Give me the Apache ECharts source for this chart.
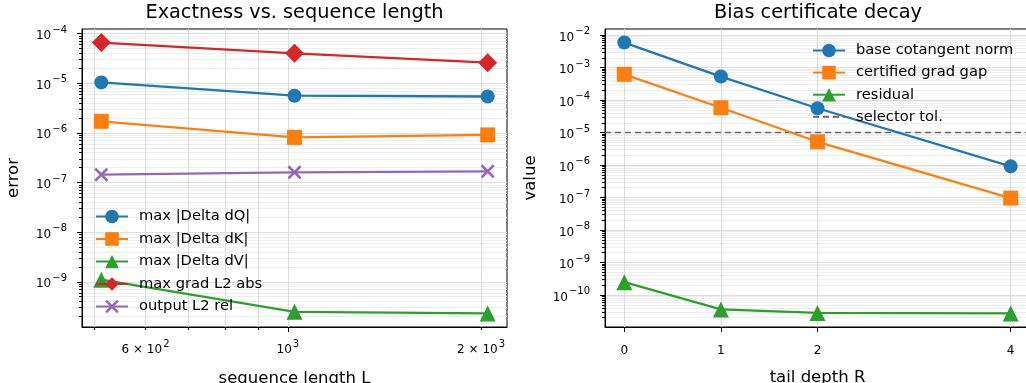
<!DOCTYPE html>
<html><head><meta charset="utf-8">
<script src="https://cdn.jsdelivr.net/npm/echarts@6/dist/echarts.min.js"></script>
<style>html,body{margin:0;padding:0;background:#fff}#c{width:1026px;height:383px}</style>
</head><body><div id="c"></div>
<script>
// ---------- data (left panel) ----------
const seqLen = [512, 1024, 2048];
const maxDeltaDQ = [1.04e-5, 5.6e-6, 5.4e-6];
const maxDeltaDK = [1.71e-6, 8.1e-7, 9.1e-7];
const maxDeltaDV = [1.1e-9, 2.48e-10, 2.3e-10];
const maxGradL2Abs = [6.6e-5, 4.0e-5, 2.6e-5];
const outputL2Rel = [1.44e-7, 1.6e-7, 1.68e-7];
const leftXLabelValues = [600, 1000, 2000];
const leftXMajorTicks = [1000];
const leftXMinorTicks = [500, 600, 700, 800, 900, 2000];

// ---------- data (right panel) ----------
const tailDepth = [0, 1, 2, 4];
const baseCotangentNorm = [5.9e-3, 5.3e-4, 5.6e-5, 9.1e-7];
const certifiedGradGap = [6.2e-4, 5.8e-5, 5.2e-6, 9.6e-8];
const residual = [2.47e-10, 3.6e-11, 2.8e-11, 2.7e-11];
const selectorTol = 1e-5;
const rightXTicks = [0, 1, 2, 4];

const FONT = 'DejaVu Sans';
const C = {blue:'#1f77b4', orange:'#ff7f0e', green:'#2ca02c', red:'#d62728', purple:'#9467bd'};
const XSYM = 'path://M0,1.3L1.3,0L5,3.7L8.7,0L10,1.3L6.3,5L10,8.7L8.7,10L5,6.3L1.3,10L0,8.7L3.7,5Z';

function logRange(arrs){
  let lo=Infinity, hi=-Infinity;
  arrs.forEach(a=>a.forEach(v=>{const l=Math.log10(v); lo=Math.min(lo,l); hi=Math.max(hi,l);}));
  const m=(hi-lo)*0.05; return [lo-m, hi+m];
}
function linRange(a){const lo=Math.min(...a), hi=Math.max(...a), m=(hi-lo)*0.05; return [lo-m, hi+m];}
function decades(r){const o=[]; for(let e=Math.ceil(r[0]); e<=Math.floor(r[1]); e++) o.push(Number('1e'+e)); return o;}
function minors(r){const o=[]; for(let e=Math.floor(r[0]); e<=Math.ceil(r[1]); e++) for(let k=2;k<=9;k++){const v=Number(k+'e'+e); const l=Math.log10(v); if(l>=r[0]&&l<=r[1]) o.push(v);} return o;}
function sup(n){return n<0?'\u2212'+(-n):String(n);}
function powLabel(v){
  const l=Math.log10(v), e=Math.floor(l+1e-9);
  const m=Math.round(v/Number('1e'+e));
  return (m===1?'{b|10}':'{b|'+m+' \u00d7 10}')+'{s|'+sup(e)+'}';
}
const rich = {
  b:{fontFamily:FONT, fontSize:12, color:'#000', padding:[5,0,0,0], verticalAlign:'bottom'},
  s:{fontFamily:FONT, fontSize:10, color:'#000', verticalAlign:'top', padding:[0,0,0,1]}
};

const lr = logRange([maxDeltaDQ,maxDeltaDK,maxDeltaDV,maxGradL2Abs,outputL2Rel]);
const rr = logRange([baseCotangentNorm,certifiedGradGap,residual]);
const lx = logRange([seqLen]);
const rx = linRange(tailDepth);

const majorGrid = {show:true, lineStyle:{color:'#dddddd', width:1}};
const minorGrid = {show:true, lineStyle:{color:'#eeeeee', width:1}};
const blackLine = {color:'#000', width:1};
const nameStyle = {fontFamily:FONT, fontSize:16.5, color:'#000'};

function yAxisPair(gridIndex, r, name, gap){
  return [
    {type:'log', gridIndex, min:Math.pow(10,r[0]), max:Math.pow(10,r[1]), position:'left',
     name, nameLocation:'middle', nameGap:gap, nameRotate:90, nameTextStyle:nameStyle,
     axisLine:{show:true, onZero:false, lineStyle:blackLine},
     axisTick:{show:true, length:5, customValues:decades(r), lineStyle:blackLine},
     axisLabel:{show:true, margin:15, customValues:decades(r), formatter:(v)=>powLabel(v), rich},
     splitLine:majorGrid, minorTick:{show:false}, z:3},
    {type:'log', gridIndex, min:Math.pow(10,r[0]), max:Math.pow(10,r[1]), position:'left',
     axisLine:{show:false, onZero:false},
     axisTick:{show:true, length:3, customValues:minors(r), lineStyle:blackLine},
     axisLabel:{show:false}, splitLine:minorGrid, minorTick:{show:false}, z:2}
  ];
}
const yAxes = [...yAxisPair(0, lr, 'error', 60), ...yAxisPair(1, rr, 'value', 66)];

const xAxes = [
  {type:'log', gridIndex:0, min:Math.pow(10,lx[0]), max:Math.pow(10,lx[1]), position:'bottom',
   name:'sequence length L', nameLocation:'middle', nameGap:43, nameTextStyle:nameStyle,
   axisLine:{show:true, onZero:false, lineStyle:blackLine},
   axisTick:{show:true, length:5, customValues:leftXMajorTicks, lineStyle:blackLine},
   axisLabel:{show:true, margin:12, customValues:leftXLabelValues, formatter:(v)=>powLabel(v), rich},
   splitLine:majorGrid, z:3},
  {type:'log', gridIndex:0, min:Math.pow(10,lx[0]), max:Math.pow(10,lx[1]), position:'bottom',
   axisLine:{show:false, onZero:false},
   axisTick:{show:true, length:3, customValues:leftXMinorTicks, lineStyle:blackLine},
   axisLabel:{show:false}, splitLine:majorGrid, z:2},
  {type:'value', gridIndex:1, min:rx[0], max:rx[1], position:'bottom',
   name:'tail depth R', nameLocation:'middle', nameGap:42, nameTextStyle:nameStyle,
   axisLine:{show:true, onZero:false, lineStyle:blackLine},
   axisTick:{show:true, length:5, customValues:rightXTicks, lineStyle:blackLine},
   axisLabel:{show:true, margin:18, customValues:rightXTicks, fontFamily:FONT, fontSize:12, color:'#000'},
   splitLine:majorGrid, z:3}
];

function line(name, xs, ys, color, symbol, size, xi, yi, extra){
  return Object.assign({
    name, type:'line', xAxisIndex:xi, yAxisIndex:yi,
    data: xs.map((x,i)=>[x, ys[i]]),
    symbol, symbolSize:size, showSymbol:true, animation:false,
    lineStyle:{color, width:2.3}, itemStyle:{color, borderWidth:0},
    emphasis:{disabled:true}, z:5
  }, extra||{});
}

const series = [
  line('max |Delta dQ|', seqLen, maxDeltaDQ, C.blue, 'circle', 14, 0, 0),
  line('max |Delta dK|', seqLen, maxDeltaDK, C.orange, 'rect', 15, 0, 0),
  line('max |Delta dV|', seqLen, maxDeltaDV, C.green, 'triangle', 16, 0, 0),
  line('max grad L2 abs', seqLen, maxGradL2Abs, C.red, 'diamond', 19, 0, 0),
  line('output L2 rel', seqLen, outputL2Rel, C.purple, XSYM, 14, 0, 0),
  line('base cotangent norm', tailDepth, baseCotangentNorm, C.blue, 'circle', 14, 2, 2),
  line('certified grad gap', tailDepth, certifiedGradGap, C.orange, 'rect', 15, 2, 2),
  line('residual', tailDepth, residual, C.green, 'triangle', 16, 2, 2),
  // horizontal tolerance line spanning the full x-axis domain
  {name:'selector tol.', type:'line', xAxisIndex:2, yAxisIndex:2,
   data:[[rx[0], selectorTol],[rx[1], selectorTol]], symbol:'none', showSymbol:false,
   lineStyle:{color:'#666', width:1.6, type:[6,4]}, itemStyle:{color:'rgba(0,0,0,0)'},
   emphasis:{disabled:true}, animation:false, z:4}
];

const legendText = {fontFamily:FONT, fontSize:14.7, color:'#000', padding:[0,0,0,6]};
const option = {
  backgroundColor:'#fff',
  animation:false,
  title:[
    {text:'Exactness vs. sequence length', left:294.5, top:3, textAlign:'center', padding:0,
     textStyle:{fontFamily:FONT, fontSize:19.3, fontWeight:'normal', color:'#000'}},
    {text:'Bias certificate decay', left:818, top:3, textAlign:'center', padding:0,
     textStyle:{fontFamily:FONT, fontSize:19.3, fontWeight:'normal', color:'#000'}}
  ],
  grid:[
    {left:82, top:29, width:425, height:298, show:true, borderColor:'#000', borderWidth:1,
     backgroundColor:'transparent', containLabel:false, outerBoundsMode:'none'},
    {left:605, top:29, width:425, height:298, show:true, borderColor:'#000', borderWidth:1,
     backgroundColor:'transparent', containLabel:false, outerBoundsMode:'none'}
  ],
  legend:[
    {data:['max |Delta dQ|','max |Delta dK|','max |Delta dV|','max grad L2 abs','output L2 rel'],
     orient:'vertical', left:95, top:209, itemWidth:32, itemHeight:17, itemGap:7.5, padding:0,
     textStyle:legendText, selectedMode:false, z:10},
    {data:['base cotangent norm','certified grad gap','residual',
           {name:'selector tol.', itemStyle:{color:'rgba(0,0,0,0)', opacity:0}}],
     orient:'vertical', left:812, top:43, itemWidth:32, itemHeight:17, itemGap:7.1, padding:0,
     textStyle:legendText, selectedMode:false, z:10}
  ],
  xAxis:xAxes, yAxis:yAxes, series
};
const chart = echarts.init(document.getElementById('c'), null, {renderer:'canvas'});
chart.setOption(option);
</script></body></html>
